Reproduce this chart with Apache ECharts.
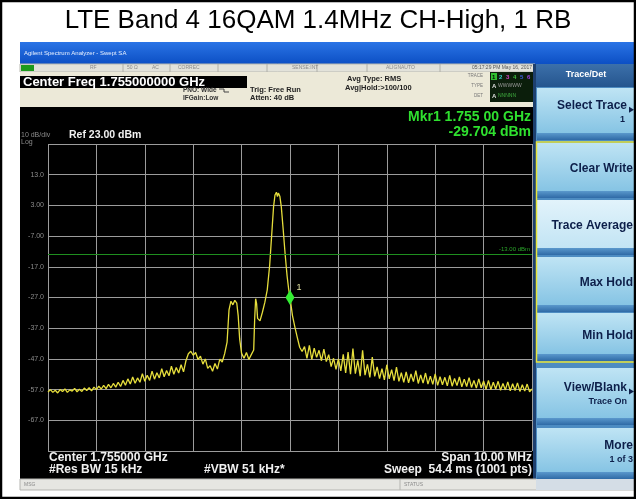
<!DOCTYPE html>
<html>
<head>
<meta charset="utf-8">
<script src="https://cdn.jsdelivr.net/npm/echarts@6/dist/echarts.min.js"></script>
<style>
  html, body { margin: 0; padding: 0; background: #fff; }
  #chart { width: 636px; height: 499px; }
</style>
</head>
<body>
<div id="chart"></div>
<script>
// trace: offset from 1.750 GHz in MHz, level in dBm
const traceMHz = [
  0.00, 0.05, 0.10, 0.15, 0.20, 0.25, 0.30, 0.35, 0.40, 0.45,
  0.50, 0.55, 0.60, 0.65, 0.70, 0.75, 0.80, 0.85, 0.90, 0.95,
  1.00, 1.05, 1.10, 1.15, 1.20, 1.25, 1.30, 1.35, 1.40, 1.45,
  1.50, 1.55, 1.60, 1.65, 1.70, 1.75, 1.80, 1.85, 1.90, 1.95,
  2.00, 2.05, 2.10, 2.15, 2.20, 2.25, 2.30, 2.35, 2.40, 2.45,
  2.50, 2.55, 2.60, 2.65, 2.70, 2.75, 2.80, 2.85, 2.90, 2.95,
  3.00, 3.05, 3.10, 3.15, 3.20, 3.25, 3.30, 3.35, 3.40, 3.45,
  3.50, 3.55, 3.60, 3.65, 3.70, 3.74, 3.78, 3.82, 3.86, 3.90,
  3.93, 3.96, 4.00, 4.05, 4.10, 4.15, 4.20, 4.25, 4.27, 4.29,
  4.31, 4.33, 4.38, 4.43, 4.48, 4.53, 4.58, 4.62, 4.66, 4.69,
  4.72, 4.74, 4.76, 4.79, 4.82, 4.86, 4.90, 4.94, 4.97, 5.00,
  5.05, 5.10, 5.15, 5.20, 5.25, 5.30, 5.35, 5.40, 5.45, 5.50,
  5.55, 5.60, 5.65, 5.70, 5.75, 5.80, 5.85, 5.90, 5.95, 6.00,
  6.05, 6.10, 6.15, 6.20, 6.25, 6.30, 6.35, 6.40, 6.45, 6.50,
  6.55, 6.60, 6.65, 6.70, 6.75, 6.80, 6.85, 6.90, 6.95, 7.00,
  7.05, 7.10, 7.15, 7.20, 7.25, 7.30, 7.35, 7.40, 7.45, 7.50,
  7.55, 7.60, 7.65, 7.70, 7.75, 7.80, 7.85, 7.90, 7.95, 8.00,
  8.05, 8.10, 8.15, 8.20, 8.25, 8.30, 8.35, 8.40, 8.45, 8.50,
  8.55, 8.60, 8.65, 8.70, 8.75, 8.80, 8.85, 8.90, 8.95, 9.00,
  9.05, 9.10, 9.15, 9.20, 9.25, 9.30, 9.35, 9.40, 9.45, 9.50,
  9.55, 9.60, 9.65, 9.70, 9.75, 9.80, 9.85, 9.90, 9.95, 10.00
];
const traceDbm = [
  -57.8, -57.0, -57.9, -57.2, -58.1, -57.0, -57.6, -56.8, -57.9, -57.1,
  -57.5, -56.6, -57.7, -56.9, -57.6, -56.5, -57.3, -56.4, -57.4, -56.2,
  -57.0, -55.9, -56.8, -55.6, -56.7, -55.3, -56.4, -55.0, -56.2, -54.6,
  -56.0, -54.0, -55.6, -53.5, -55.2, -52.9, -54.9, -53.2, -54.6, -51.8,
  -54.3, -52.3, -54.0, -51.0, -53.6, -51.5, -53.2, -50.2, -52.8, -50.8,
  -52.5, -49.4, -52.0, -49.8, -51.6, -48.9, -51.2, -47.6, -45.3, -44.5,
  -45.8, -44.9, -47.2, -46.1, -48.7, -47.0, -50.1, -49.2, -51.0, -48.5,
  -50.3, -47.1, -48.0, -45.3, -41.5, -31.0, -28.2, -29.4, -27.9, -28.8,
  -33.0, -40.5, -45.2, -46.8, -44.9, -47.2, -45.6, -44.1, -34.0, -27.4,
  -29.0, -33.8, -34.6, -31.8, -28.6, -24.5, -16.5, -7.0, 2.5, 6.4,
  7.3, 5.9, 7.0, 6.0, 2.6, -5.0, -13.0, -20.0, -24.0, -27.0,
  -32.8, -36.6, -40.0, -43.2, -44.6, -43.0, -46.8, -42.6, -47.2, -43.5,
  -46.5, -44.2, -47.6, -43.8, -47.9, -45.6, -49.5, -46.8, -50.4, -47.0,
  -50.9, -45.5, -51.6, -44.8, -52.0, -43.6, -51.8, -47.5, -52.6, -44.2,
  -52.3, -48.8, -53.0, -46.4, -52.7, -49.6, -53.4, -50.2, -53.8, -48.9,
  -53.5, -50.5, -54.1, -49.7, -54.3, -51.5, -54.6, -51.2, -54.8, -51.9,
  -54.4, -50.8, -55.0, -52.2, -54.9, -51.6, -55.2, -52.6, -55.3, -51.9,
  -55.6, -52.8, -55.4, -53.0, -55.8, -52.4, -55.9, -53.4, -55.7, -52.9,
  -56.1, -53.6, -56.0, -53.1, -56.3, -54.0, -56.5, -53.5, -56.4, -54.2,
  -56.9, -54.0, -57.0, -54.6, -56.8, -54.3, -57.2, -55.0, -57.1, -54.5,
  -57.4, -55.1, -57.3, -54.8, -57.6, -55.4, -57.5, -55.2, -57.7, -56.8
];
const yTickValues = [13, 3, -7, -17, -27, -37, -47, -57, -67];
const yTickLabels = ['13.0', '3.00', '-7.00', '-17.0', '-27.0', '-37.0', '-47.0', '-57.0', '-67.0'];
const refLevel = 23;
const bottomLevel = -77;
const displayLine = -13;
const markerMHz = 5.0;
const markerDbm = -27.0;

const FONT = '"Liberation Sans", Arial, sans-serif';

const chartDom = document.getElementById('chart');
const myChart = echarts.init(chartDom, null, { renderer: 'canvas' });

const vgrad = (a, b) => ({
  type: 'linear', x: 0, y: 0, x2: 0, y2: 1,
  colorStops: [{ offset: 0, color: a }, { offset: 1, color: b }]
});

// helpers for the screen chrome
const txt = (x, y, text, font, fill, align) => ({
  type: 'text', x: x, y: y, z: 20,
  style: {
    text: text, font: font, fill: fill,
    textAlign: align || 'left', align: align || 'left',
    textVerticalAlign: 'middle', verticalAlign: 'middle'
  }
});
const box = (x, y, w, h, fill, stroke, z) => ({
  type: 'rect', z: z == null ? -10 : z,
  shape: { x: x, y: y, width: w, height: h },
  style: { fill: fill, stroke: stroke || null, lineWidth: stroke ? 1 : 0 }
});

const elements = [];
// page and screen backgrounds
elements.push(box(0, 0, 636, 499, '#fff', null, -20));
elements.push(box(20, 42, 616, 22, vgrad('#2a74e6', '#0c4fc4')));
elements.push(txt(24, 53, 'Agilent Spectrum Analyzer - Swept SA', '6px ' + FONT, '#e8f0ff'));
elements.push(box(20, 64, 515, 8, '#e2e2da', '#b8b8b0'));
elements.push(box(21, 65, 13, 6, '#1c9a1c'));
[['RF', 90], ['50 \u03a9', 127], ['AC', 152], ['CORREC', 178], ['SENSE:INT', 292], ['ALIGNAUTO', 386]].forEach(p => {
  elements.push(txt(p[1], 68, p[0], '5px ' + FONT, '#8a8a8a'));
});
[123, 170, 218, 267, 317, 367, 440].forEach(x => {
  elements.push({ type: 'line', z: -9, shape: { x1: x, y1: 64, x2: x, y2: 72 }, style: { stroke: '#b0b0a8', lineWidth: 1 } });
});
elements.push(txt(532, 68, '05:17:29 PM May 16, 2017', '5px ' + FONT, '#555', 'right'));

elements.push(box(20, 72, 515, 35, '#ece9d8'));
elements.push(box(20, 76, 227, 12, '#000'));
elements.push(txt(23, 82, 'Center Freq 1.755000000 GHz', 'bold 13px ' + FONT, '#fff'));
elements.push(txt(183, 90, 'PNO: Wide', 'bold 6.5px ' + FONT, '#333'));
elements.push(txt(183, 98, 'IFGain:Low', 'bold 6.5px ' + FONT, '#333'));
elements.push({ type: 'polyline', z: 20, shape: { points: [[219, 89], [224, 89], [224, 92], [229, 92]] }, style: { stroke: '#444', lineWidth: 1, fill: null } });
elements.push(txt(250, 90, 'Trig: Free Run', 'bold 7.5px ' + FONT, '#222'));
elements.push(txt(250, 98, 'Atten: 40 dB', 'bold 7.5px ' + FONT, '#222'));
elements.push(txt(347, 79, 'Avg Type: RMS', 'bold 7.5px ' + FONT, '#222'));
elements.push(txt(345, 88, 'Avg|Hold:>100/100', 'bold 7.5px ' + FONT, '#222'));
elements.push(txt(483, 76, 'TRACE', '4.5px ' + FONT, '#777', 'right'));
elements.push(txt(483, 86, 'TYPE', '4.5px ' + FONT, '#777', 'right'));
elements.push(txt(483, 96, 'DET', '4.5px ' + FONT, '#777', 'right'));
elements.push(box(490, 72, 43, 30, '#0b1e0b'));
elements.push(box(491, 73, 6, 7, '#2fbf2f', null, -9));
[['1', '#000'], ['2', '#39d0d0'], ['3', '#d040c0'], ['4', '#40c040'], ['5', '#4060e0'], ['6', '#a040e0']].forEach((p, i) => {
  elements.push(txt(492 + i * 7, 77, p[0], 'bold 6px ' + FONT, p[1]));
});
elements.push(txt(492, 86, 'A', 'bold 6px ' + FONT, '#ddd'));
elements.push(txt(498, 86, 'WWWWW', '5px ' + FONT, '#9a9a9a'));
elements.push(txt(492, 96, 'A', 'bold 6px ' + FONT, '#ddd'));
elements.push(txt(498, 96, 'NNNNN', '5px ' + FONT, '#3fae3f'));

// black screen area
elements.push(box(20, 107, 515, 372, '#000'));
elements.push(box(533, 64, 3, 415, '#1d3f6e'));
elements.push(txt(531, 117, 'Mkr1 1.755 00 GHz', 'bold 14px ' + FONT, '#2fe02f', 'right'));
elements.push(txt(531, 132, '-29.704 dBm', 'bold 14px ' + FONT, '#2fe02f', 'right'));
elements.push(txt(21, 135, '10 dB/div', '7px ' + FONT, '#8a8a8a'));
elements.push(txt(21, 142, 'Log', '7px ' + FONT, '#8a8a8a'));
elements.push(txt(69, 135, 'Ref 23.00 dBm', 'bold 10.5px ' + FONT, '#f0f0f0'));
elements.push(txt(49, 458, 'Center 1.755000 GHz', 'bold 12px ' + FONT, '#f0f0f0'));
elements.push(txt(49, 470, '#Res BW 15 kHz', 'bold 12px ' + FONT, '#f0f0f0'));
elements.push(txt(204, 470, '#VBW 51 kHz*', 'bold 12px ' + FONT, '#f0f0f0'));
elements.push(txt(532, 458, 'Span 10.00 MHz', 'bold 12px ' + FONT, '#f0f0f0', 'right'));
elements.push(txt(532, 470, 'Sweep  54.4 ms (1001 pts)', 'bold 12px ' + FONT, '#f0f0f0', 'right'));

// message bar
elements.push(box(20, 479, 616, 11, '#e6e6e2', '#b4b4b0'));
elements.push({ type: 'line', z: -9, shape: { x1: 400, y1: 479, x2: 400, y2: 490 }, style: { stroke: '#b4b4b0', lineWidth: 1 } });
elements.push(txt(24, 485, 'MSG', '5px ' + FONT, '#8a8a8a'));
elements.push(txt(404, 485, 'STATUS', '5px ' + FONT, '#8a8a8a'));

// soft key panel
elements.push(box(536, 64, 100, 415, '#4d8cc2'));
elements.push(box(536, 64, 100, 23, vgrad('#3c70aa', '#25558e')));
elements.push(txt(586, 75, 'Trace/Det', 'bold 9px ' + FONT, '#fff', 'center'));
const keys = [
  { y: 88, h: 52, lines: ['Select Trace', '1'], arrow: true },
  { y: 143, h: 55, lines: ['Clear Write'] },
  { y: 200, h: 55, lines: ['Trace Average'], active: true },
  { y: 257, h: 55, lines: ['Max Hold'] },
  { y: 313, h: 48, lines: ['Min Hold'] },
  { y: 368, h: 57, lines: ['View/Blank', 'Trace On'], arrow: true },
  { y: 428, h: 51, lines: ['More', '1 of 3'] }
];
keys.forEach(k => {
  const top = k.active ? '#e2f3fb' : '#bfe4f4';
  const bot = k.active ? '#c2e4f4' : '#86c4e4';
  elements.push(box(537, k.y, 98, k.h - 7, vgrad(top, bot)));
  elements.push(box(537, k.y + k.h - 7, 98, 7, vgrad('#5a98cc', '#2f6aa6')));
  const right = k.arrow ? 627 : 633;
  const mid = k.y + (k.lines.length > 1 ? k.h * 0.34 : k.h * 0.47);
  elements.push(txt(right, mid, k.lines[0], 'bold 12px ' + FONT, '#0d1f4a', 'right'));
  if (k.lines.length > 1) {
    const small = k.lines[1].length > 2;
    elements.push(txt(right - (small ? 0 : 2), mid + 14, k.lines[1], 'bold 9px ' + FONT, '#0d1f4a', 'right'));
  }
  if (k.arrow) {
    elements.push({ type: 'polygon', z: 20, shape: { points: [[629, mid + 1], [634, mid + 4], [629, mid + 7]] }, style: { fill: '#0d1f4a' } });
  }
});
elements.push({ type: 'rect', z: 21, shape: { x: 536.5, y: 142, width: 98.5, height: 220 }, style: { fill: null, stroke: '#e8e43a', lineWidth: 1.5 } });
elements.push(box(536, 479, 100, 11, '#d4dde6'));

// title and outer frame
elements.push(txt(318, 21, 'LTE Band 4 16QAM 1.4MHz CH-High, 1 RB', '26px ' + FONT, '#000', 'center'));
elements.push({ type: 'rect', z: 30, shape: { x: 1, y: 1, width: 634, height: 497 }, style: { fill: null, stroke: '#000', lineWidth: 2.5 } });

const traceData = traceMHz.map((f, i) => [f, traceDbm[i]]);

const option = {
  animation: false,
  graphic: { elements: elements },
  grid: { left: 48, top: 144, width: 484, height: 307, show: false },
  xAxis: {
    type: 'value', min: 0, max: 10, interval: 1,
    axisLine: { show: false }, axisTick: { show: false }, axisLabel: { show: false },
    splitLine: { show: true, lineStyle: { color: '#9c9c9c', width: 1 } }
  },
  yAxis: {
    type: 'value', min: bottomLevel, max: refLevel, interval: 10,
    axisLine: { show: false }, axisTick: { show: false },
    axisLabel: {
      color: '#8c8c8c', fontSize: 7, fontFamily: FONT, margin: 4,
      formatter: v => {
        const i = yTickValues.indexOf(Math.round(v));
        return i < 0 ? '' : yTickLabels[i];
      }
    },
    splitLine: { show: true, lineStyle: { color: '#9c9c9c', width: 1 } }
  },
  series: [{
    type: 'line',
    data: traceData,
    showSymbol: false,
    lineStyle: { color: '#e6de3c', width: 1.3 },
    markLine: {
      silent: true, symbol: 'none',
      data: [{ yAxis: displayLine }],
      lineStyle: { color: '#1f8f1f', width: 1, type: 'solid' },
      label: { show: true, position: 'insideEndTop', formatter: '-13.00 dBm', color: '#2aa52a', fontSize: 6, distance: 2 }
    },
    markPoint: {
      silent: true,
      data: [{
        coord: [markerMHz, markerDbm], symbol: 'diamond', symbolSize: [9, 15],
        itemStyle: { color: '#33ee33' },
        label: { show: true, formatter: '1', position: [11, -7], color: '#e0e0a0', fontSize: 9, fontFamily: FONT }
      }]
    }
  }]
};
myChart.setOption(option);
</script>
</body>
</html>
